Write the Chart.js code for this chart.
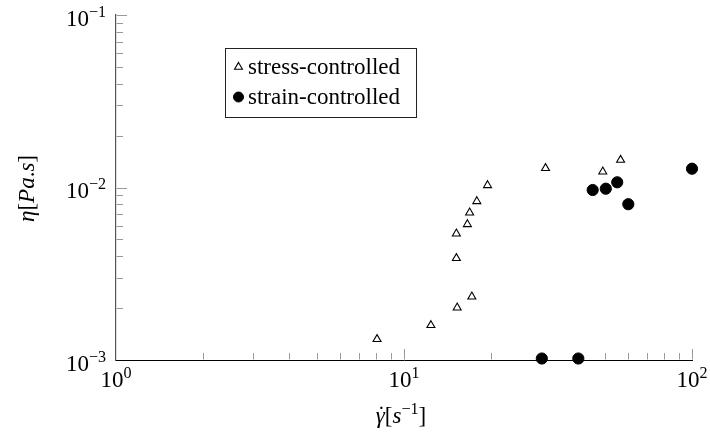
<!DOCTYPE html>
<html>
<head>
<meta charset="utf-8">
<script src="https://cdn.jsdelivr.net/npm/chart.js@4/dist/chart.umd.min.js"></script>
<style>
  html, body { margin: 0; padding: 0; background: #fff; }
  canvas { display: block; }
</style>
</head>
<body>
<canvas id="c" width="710" height="437"></canvas>
<script>
// Shear rate (1/s) and viscosity (Pa.s), stress-controlled runs
const stressRate = [8.06, 12.4, 15.3, 17.2, 15.2, 15.2, 16.6, 16.9, 17.9, 19.5, 31.0, 49.0, 56.5];
const stressVisc = [0.00132, 0.00159, 0.00201, 0.00233, 0.00389, 0.0054, 0.00612, 0.00715, 0.00832, 0.0103, 0.01293, 0.01235, 0.01444];

// Strain-controlled runs
const strainRate = [30.1, 40.3, 45.2, 50.2, 55.0, 60.1, 100];
const strainVisc = [0.00102, 0.00102, 0.00967, 0.00984, 0.01072, 0.0080, 0.01285];

const seriesLabels = ['stress-controlled', 'strain-controlled'];

// Axis decades (exponent of 10) and minor tick values
const xMajor = [0, 1, 2];
const yMajor = [-3, -2, -1];
const xMinor = [2, 3, 4, 5, 6, 7, 8, 9, 20, 30, 40, 50, 60, 70, 80, 90];
const yMinor = [0.002, 0.003, 0.004, 0.005, 0.006, 0.007, 0.008, 0.009,
                0.02, 0.03, 0.04, 0.05, 0.06, 0.07, 0.08, 0.09];

const FONT = "'Liberation Serif', 'DejaVu Serif', serif";
const BASE = 23;

const toPoints = (xs, ys) => xs.map((x, i) => ({ x: x, y: ys[i] }));

// Text runs: [text, {italic, sup, dot}]
function setFont(ctx, st, size) {
  const s = st && st.sup ? size * 0.7 : size;
  ctx.font = (st && st.italic ? 'italic ' : '') + s + 'px ' + FONT;
}
function runsWidth(ctx, runs, size) {
  let w = 0;
  for (const [t, st] of runs) { setFont(ctx, st, size); w += ctx.measureText(t).width; }
  return w;
}
function drawRuns(ctx, runs, x, y, size) {
  let cx = x;
  for (const [t, st] of runs) {
    setFont(ctx, st, size);
    const dy = st && st.sup ? -size * 0.38 : 0;
    ctx.fillText(t, cx, y + dy);
    const w = ctx.measureText(t).width;
    if (st && st.dot) {
      // time-derivative dot over the symbol, set upright
      const keepAlign = ctx.textAlign;
      ctx.font = size + 'px ' + FONT;
      ctx.textAlign = 'center';
      ctx.fillText('\u02D9', cx + w / 2 + 1, y + dy - 1);
      ctx.textAlign = keepAlign;
    }
    cx += w;
  }
}
function powRuns(e) {
  return [['10', {}], [(e < 0 ? '\u2212' + (-e) : String(e)), { sup: true }]];
}

const axisDecor = {
  id: 'axisDecor',
  beforeDatasetsDraw(chart) {
    const { ctx, chartArea: a, scales: { x, y } } = chart;
    ctx.save();
    ctx.strokeStyle = '#9a9a9a';
    ctx.lineWidth = 1;
    ctx.beginPath();
    for (const e of xMajor.slice(1)) {
      const px = Math.round(x.getPixelForValue(Math.pow(10, e))) + 0.5;
      ctx.moveTo(px, a.bottom - 0.5); ctx.lineTo(px, a.bottom - 11);
    }
    for (const v of xMinor) {
      const px = Math.round(x.getPixelForValue(v)) + 0.5;
      ctx.moveTo(px, a.bottom - 0.5); ctx.lineTo(px, a.bottom - 7);
    }
    for (const e of yMajor.slice(1)) {
      const py = Math.round(y.getPixelForValue(Math.pow(10, e))) + 0.5;
      ctx.moveTo(a.left + 0.5, py); ctx.lineTo(a.left + 11, py);
    }
    for (const v of yMinor) {
      const py = Math.round(y.getPixelForValue(v)) + 0.5;
      ctx.moveTo(a.left + 0.5, py); ctx.lineTo(a.left + 7, py);
    }
    ctx.stroke();
    ctx.restore();
  },
  afterDraw(chart) {
    const { ctx, chartArea: a, scales: { x, y } } = chart;
    ctx.save();
    ctx.fillStyle = '#000';
    ctx.textBaseline = 'alphabetic';
    ctx.textAlign = 'left';

    // x tick labels
    for (const e of xMajor) {
      const runs = powRuns(e);
      const w = runsWidth(ctx, runs, BASE);
      const px = x.getPixelForValue(Math.pow(10, e));
      drawRuns(ctx, runs, px - w / 2, a.bottom + 27, BASE);
    }
    // y tick labels
    for (const e of yMajor) {
      const runs = powRuns(e);
      const w = runsWidth(ctx, runs, BASE);
      const py = y.getPixelForValue(Math.pow(10, e));
      drawRuns(ctx, runs, a.left - 10 - w, py + 10.5, BASE);
    }

    // x axis title
    const xt = [['\u03B3', { italic: true, dot: true }], ['[', {}], ['s', { italic: true }], ['\u22121', { sup: true }], [']', {}]];
    const xw = runsWidth(ctx, xt, BASE);
    drawRuns(ctx, xt, (a.left + a.right) / 2 - xw / 2 - 3, 423, BASE);

    // y axis title
    const yt = [['\u03B7', { italic: true }], ['[', {}], ['Pa', { italic: true }], ['.', {}], ['s', { italic: true }], [']', {}]];
    const yw = runsWidth(ctx, yt, BASE);
    ctx.save();
    ctx.translate(34, (a.top + a.bottom) / 2 + 1);
    ctx.rotate(-Math.PI / 2);
    drawRuns(ctx, yt, -yw / 2, 0, BASE);
    ctx.restore();

    // legend box
    const lx = 225, ly = 48, lw = 191, lh = 69;
    ctx.fillStyle = '#fff';
    ctx.fillRect(lx, ly, lw, lh);
    ctx.strokeStyle = '#222';
    ctx.lineWidth = 1;
    ctx.strokeRect(lx + 0.5, ly + 0.5, lw, lh);
    const rows = [67, 97];
    chart.data.datasets.forEach((ds, i) => {
      ctx.strokeStyle = ds.borderColor;
      ctx.fillStyle = ds.backgroundColor;
      ctx.lineWidth = ds.borderWidth;
      Chart.helpers.drawPoint(ctx, {
        pointStyle: ds.pointStyle,
        radius: ds.pointStyle === 'circle' ? 5 : ds.pointRadius,
        borderWidth: ds.borderWidth
      }, 238.5, rows[i]);
      ctx.fillStyle = '#000';
      ctx.font = BASE + 'px ' + FONT;
      ctx.fillText(ds.label, 248, rows[i] + 7);
    });
    ctx.restore();
  }
};

new Chart(document.getElementById('c'), {
  type: 'scatter',
  data: {
    datasets: [
      {
        label: seriesLabels[0],
        data: toPoints(stressRate, stressVisc),
        pointStyle: 'triangle',
        pointRadius: 4.6,
        borderWidth: 1.1,
        borderColor: '#000',
        backgroundColor: 'rgba(255,255,255,0)',
        clip: false
      },
      {
        label: seriesLabels[1],
        data: toPoints(strainRate, strainVisc),
        pointStyle: 'circle',
        pointRadius: 5.6,
        borderWidth: 1,
        borderColor: '#000',
        backgroundColor: '#000',
        clip: false
      }
    ]
  },
  plugins: [axisDecor],
  options: {
    responsive: false,
    animation: false,
    layout: { padding: { left: 0, right: 18, top: 15, bottom: 0 } },
    plugins: {
      legend: { display: false },
      tooltip: { enabled: false }
    },
    scales: {
      x: {
        type: 'logarithmic',
        min: 1, max: 100,
        grid: { display: false },
        ticks: { display: false },
        border: { display: true, color: '#000', width: 1 },
        afterFit(s) { s.height = 77; }
      },
      y: {
        type: 'logarithmic',
        min: 0.001, max: 0.1,
        grid: { display: false },
        ticks: { display: false },
        border: { display: true, color: '#555', width: 1.2 },
        afterFit(s) { s.width = 116; }
      }
    }
  }
});
</script>
</body>
</html>
